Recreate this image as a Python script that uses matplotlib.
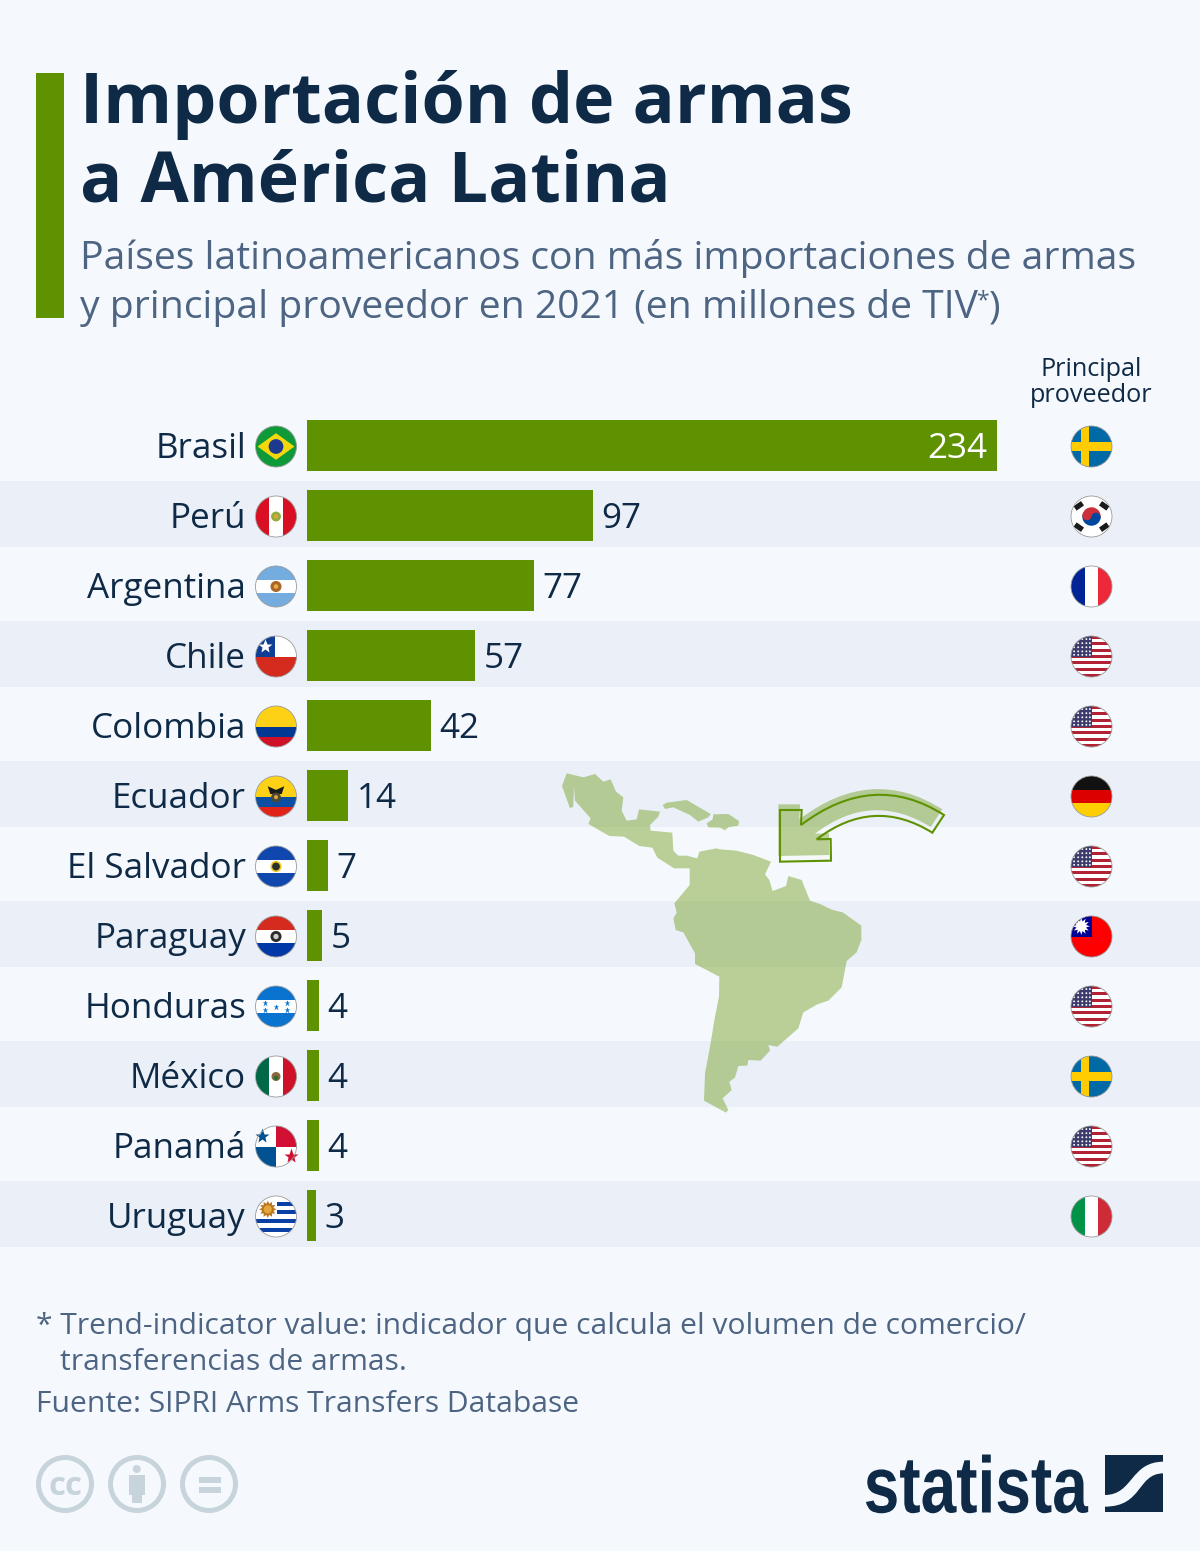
import numpy as np
import matplotlib
matplotlib.use('Agg')
import matplotlib.pyplot as plt
from matplotlib.patches import Circle, Rectangle, Polygon, PathPatch, Wedge
from matplotlib.patheffects import AbstractPathEffect
from matplotlib.path import Path
from matplotlib.transforms import Affine2D

plt.rcParams['font.family'] = ['Open Sans', 'DejaVu Sans']

# data
countries = ['Brasil', 'Perú', 'Argentina', 'Chile', 'Colombia', 'Ecuador', 'El Salvador',
             'Paraguay', 'Honduras', 'México', 'Panamá', 'Uruguay']
values = [234, 97, 77, 57, 42, 14, 7, 5, 4, 4, 4, 3]
suppliers = ['Suecia', 'Corea del Sur', 'Francia', 'EEUU', 'EEUU', 'Alemania', 'EEUU',
             'Taiwán', 'EEUU', 'Suecia', 'EEUU', 'Italia']
title_lines = ['Importación de armas', 'a América Latina']
subtitle_lines = ['Países latinoamericanos con más importaciones de armas',
                  'y principal proveedor en 2021 (en millones de TIV']
foot_lines = ['* Trend-indicator value: indicador que calcula el volumen de comercio/',
              'transferencias de armas.',
              'Fuente: SIPRI Arms Transfers Database']

BG = '#f5f9fd'
STRIPE = '#ebf0f8'
GREEN = '#5f9200'
NAVY = '#0f2a46'
GREY = '#4d6482'
PX = 0.72  # px to pt at dpi 100

fig = plt.figure(figsize=(12, 15.51), dpi=100, facecolor=BG)
ax = fig.add_axes([0, 0, 1, 1])
ax.set_xlim(0, 1200)
ax.set_ylim(1551, 0)
ax.axis('off')
renderer = fig.canvas.get_renderer()

# header
ax.add_patch(Rectangle((36, 73), 28, 245, color=GREEN, lw=0))
ax.text(79.5, 123.5, title_lines[0], fontsize=70 * PX, fontweight='bold', color=NAVY)
ax.text(79.5, 201.5, title_lines[1], fontsize=70 * PX, fontweight='bold', color=NAVY)
ax.text(79.5, 269.5, subtitle_lines[0], fontsize=39.15 * PX, color=GREY)
sub = ax.text(79.5, 318, subtitle_lines[1], fontsize=39.15 * PX, color=GREY)
# small asterisk and closing bracket follow the end of the line
end_x = sub.get_window_extent(renderer).x1
star = ax.text(end_x, 307, '*', fontsize=23 * PX, color=GREY)
end_x = star.get_window_extent(renderer).x1
ax.text(end_x - 1, 318, ')', fontsize=39.15 * PX, color=GREY)
ax.text(1091.5, 376, 'Principal', fontsize=25.2 * PX, color=NAVY, ha='center')
ax.text(1091.5, 402, 'proveedor', fontsize=25.2 * PX, color=NAVY, ha='center')

# stripes behind every second row
for i in range(1, 12, 2):
    ax.add_patch(Rectangle((0, 411 + 70 * i), 1200, 65.5, color=STRIPE, lw=0, zorder=0))

# map, points (zoom coordinates)
main_land = [(80, 40), (130, 52), (165, 42), (190, 65), (212, 58), (228, 95), (250, 112), (245, 152), (260, 182),
             (290, 178), (297, 148), (360, 155), (355, 170), (330, 195), (332, 212), (397, 218), (400, 272),
             (415, 287), (440, 287), (472, 295), (478, 275), (530, 265), (540, 268), (590, 272), (640, 285),
             (693, 305), (675, 343), (688, 360), (698, 393), (738, 378), (745, 348), (785, 360), (810, 422),
             (840, 432), (878, 450), (908, 457), (964, 497), (964, 540), (950, 577), (920, 603), (905, 682),
             (865, 722), (832, 733), (790, 757), (775, 805), (712, 860), (685, 855), (690, 872), (662, 902),
             (625, 900), (622, 917), (595, 918), (585, 953), (568, 965), (575, 990), (548, 1015), (565, 1050),
             (558, 1058), (492, 1022), (495, 940), (510, 860), (525, 770), (537, 710), (538, 650), (465, 612),
             (465, 580), (430, 517), (407, 510), (400, 475), (410, 458), (403, 430), (449, 375), (449, 325),
             (402, 325), (352, 293), (337, 263), (298, 258), (252, 230), (208, 228), (145, 192), (152, 175),
             (105, 122), (102, 80), (100, 140), (90, 145), (66, 78)]
cuba = [(368, 135), (380, 128), (440, 120), (512, 162), (505, 172), (475, 185), (450, 165), (400, 142), (375, 147)]
hispaniola = [(520, 163), (565, 162), (597, 183), (595, 197), (565, 202), (555, 211), (540, 203), (505, 202),
              (500, 190), (518, 178)]


def zoom_xy(pts, dx=0, dy=0):
    return [(540 + (x + dx) / 3, 760 + (y + dy) / 3) for x, y in pts]


for shape in (main_land, cuba, hispaniola):
    ax.add_patch(Polygon(zoom_xy(shape), closed=True, fc=GREEN, ec='none', alpha=0.4, zorder=1))

arrow_pts = [(720, 150), (785, 150), (783, 195), (1000, 30), (1212, 165), (1177, 218), (1000, 108), (830, 238),
             (872, 237), (873, 302), (720, 305), (720, 150)]
arrow_codes = [Path.MOVETO, Path.LINETO, Path.LINETO, Path.CURVE3, Path.CURVE3, Path.LINETO, Path.CURVE3,
               Path.CURVE3, Path.LINETO, Path.LINETO, Path.LINETO, Path.CLOSEPOLY]
ax.add_patch(PathPatch(Path(zoom_xy(arrow_pts, -5, -17), arrow_codes), fc=GREEN, ec='none', alpha=0.4, zorder=1))
ax.add_patch(PathPatch(Path(zoom_xy(arrow_pts), arrow_codes), fc='none', ec=GREEN, lw=1.5, zorder=1))

# bars, on their own axes with a real scale
bar_ax = fig.add_axes([307 / 1200, 1 - 1250.5 / 1551, 690 / 1200, 840 / 1551])
bar_ax.patch.set_alpha(0)
bar_ax.set_xlim(0, 234)
bar_ax.set_ylim(11.5, -0.5)
bar_ax.axis('off')
bar_ax.barh(range(len(values)), values, height=51 / 70, color=GREEN, zorder=3)
for i, (name, v) in enumerate(zip(countries, values)):
    bar_ax.annotate(name, (0, i), xytext=(-61 * PX, -13 * PX), textcoords='offset points', ha='right',
                    va='baseline', fontsize=35 * PX, color=NAVY, annotation_clip=False)
    if i == 0:
        bar_ax.annotate(str(v), (v, i), xytext=(-10 * PX, -13 * PX), textcoords='offset points', ha='right',
                        va='baseline', fontsize=35 * PX, color='white', zorder=4)
    else:
        bar_ax.annotate(str(v), (v, i), xytext=(8.5 * PX, -13 * PX), textcoords='offset points', ha='left',
                        va='baseline', fontsize=35 * PX, color=NAVY, annotation_clip=False)


# flags: drawn in units of the radius, clipped to a circle
R = 20.5


class Flag:
    def __init__(self, cx, cy):
        self.cx, self.cy = cx, cy
        self.clip = Circle((cx, cy), R, transform=ax.transData)

    def rect(self, x0, y0, x1, y1, color):
        p = Rectangle((self.cx + x0 * R, self.cy + y0 * R), (x1 - x0) * R, (y1 - y0) * R, fc=color, lw=0, zorder=5)
        ax.add_patch(p)
        p.set_clip_path(self.clip)

    def poly(self, pts, color):
        p = Polygon([(self.cx + x * R, self.cy + y * R) for x, y in pts], fc=color, lw=0, zorder=6)
        ax.add_patch(p)
        p.set_clip_path(self.clip)

    def dot(self, x, y, r, color):
        p = Circle((self.cx + x * R, self.cy + y * R), r * R, fc=color, lw=0, zorder=7)
        ax.add_patch(p)
        p.set_clip_path(self.clip)

    def star(self, x, y, size, color, marker='*'):
        ax.plot(self.cx + x * R, self.cy + y * R, marker=marker, ms=size, mfc=color, mec='none', zorder=8)

    def hbands(self, bands):
        for y0, y1, c in bands:
            self.rect(-1, y0, 1, y1, c)

    def vbands(self, bands):
        for x0, x1, c in bands:
            self.rect(x0, -1, x1, 1, c)

    def ring(self):
        ax.add_patch(Circle((self.cx, self.cy), R, fc='none', ec='#9a9a9a', lw=0.6, zorder=9))


def brasil(f):
    f.rect(-1, -1, 1, 1, '#0f9a3a')
    f.poly([(-0.9, 0), (0, -0.65), (0.9, 0), (0, 0.65)], '#f5d80c')
    f.dot(0, 0, 0.36, '#1d3a8f')
    f.poly([(-0.34, -0.1), (0.34, 0.08), (0.33, 0.14), (-0.34, -0.03)], '#e8eef5')


def peru(f):
    f.vbands([(-1, -0.33, '#d91023'), (-0.33, 0.33, 'white'), (0.33, 1, '#d91023')])
    f.dot(0, 0, 0.24, '#8fae3c')
    f.dot(0, 0, 0.11, '#d9a441')


def argentina(f):
    f.hbands([(-1, -0.33, '#74acdf'), (-0.33, 0.33, 'white'), (0.33, 1, '#74acdf')])
    f.dot(0, 0, 0.27, '#a9682a')
    f.dot(0, 0, 0.11, '#e8b04a')


def chile(f):
    f.rect(-1, -1, 1, 0, 'white')
    f.rect(-1, -1, -0.05, 0, '#0f3f95')
    f.rect(-1, 0, 1, 1, '#d52b1e')
    f.star(-0.53, -0.5, 10, 'white')


def colombia(f):
    f.hbands([(-1, 0, '#fcd116'), (0, 0.5, '#003893'), (0.5, 1, '#ce1126')])


def ecuador(f):
    f.hbands([(-1, 0, '#fcd116'), (0, 0.5, '#0b4ea2'), (0.5, 1, '#e2231a')])
    f.poly([(-0.4, -0.5), (0, -0.32), (0.4, -0.5), (0.28, -0.12), (-0.28, -0.12)], '#1b1b1b')
    f.dot(0, 0.05, 0.24, '#4a4a33')
    f.dot(0, 0.03, 0.1, '#d9a441')


def salvador(f):
    f.hbands([(-1, -0.33, '#0f47af'), (-0.33, 0.33, 'white'), (0.33, 1, '#0f47af')])
    f.dot(0, 0, 0.27, '#f0c419')
    f.dot(0, 0, 0.19, '#28322c')


def paraguay(f):
    f.hbands([(-1, -0.33, '#d52b1e'), (-0.33, 0.33, 'white'), (0.33, 1, '#0038a8')])
    f.dot(0, 0, 0.27, '#2b2b2b')
    f.dot(0, 0, 0.13, '#cfcfcf')


def honduras(f):
    f.hbands([(-1, -0.33, '#0a73cf'), (-0.33, 0.33, 'white'), (0.33, 1, '#0a73cf')])
    for x, y in [(-0.55, -0.17), (-0.55, 0.17), (0, 0), (0.55, -0.17), (0.55, 0.17)]:
        f.star(x, y, 5, '#0a73cf')


def mexico(f):
    f.vbands([(-1, -0.33, '#006847'), (-0.33, 0.33, 'white'), (0.33, 1, '#ce1126')])
    f.dot(0, 0, 0.22, '#8a6a3c')
    f.dot(0, 0.07, 0.11, '#2f6b3a')


def panama(f):
    f.rect(-1, -1, 0, 0, 'white')
    f.rect(0, -1, 1, 0, '#d21034')
    f.rect(-1, 0, 0, 1, '#005293')
    f.rect(0, 0, 1, 1, 'white')
    f.star(-0.68, -0.5, 11, '#005293')
    f.star(0.72, 0.48, 11, '#d21034')


def uruguay(f):
    f.rect(-1, -1, 1, 1, 'white')
    for y in (-0.73, -0.3, 0.14, 0.57):
        f.rect(-1, y, 1, y + 0.2, '#0a3fa6')
    f.rect(-1, -1, 0.05, 0.05, 'white')
    ang = np.linspace(0, 2 * np.pi, 24, endpoint=False)
    rad = np.where(np.arange(24) % 2 == 0, 0.42, 0.28)
    f.poly(list(zip(-0.4 + rad * np.cos(ang), -0.35 + rad * np.sin(ang))), '#b9761d')
    f.dot(-0.4, -0.35, 0.2, '#e3a63a')


def suecia(f):
    f.rect(-1, -1, 1, 1, '#006aa7')
    f.rect(-1, -0.2, 1, 0.22, '#fecc00')
    f.rect(-0.5, -1, -0.1, 1, '#fecc00')


def corea(f):
    f.rect(-1, -1, 1, 1, 'white')
    # y axis points down, so the wedge running through 270 degrees is the upper half
    ax.add_patch(Wedge((f.cx, f.cy), 0.45 * R, 190, 10, fc='#cd2e3a', lw=0, zorder=7))
    ax.add_patch(Wedge((f.cx, f.cy), 0.45 * R, 10, 190, fc='#0047a0', lw=0, zorder=7))
    f.dot(-0.22, -0.04, 0.225, '#cd2e3a')
    f.dot(0.22, 0.04, 0.225, '#0047a0')
    for x, y, a in [(-0.62, -0.52, -35), (0.62, -0.52, 35), (-0.62, 0.52, 35), (0.62, 0.52, -35)]:
        c, s = np.cos(np.radians(a)), np.sin(np.radians(a))
        box = [(-0.22, -0.13), (0.22, -0.13), (0.22, 0.13), (-0.22, 0.13)]
        f.poly([(x + bx * c - by * s, y + bx * s + by * c) for bx, by in box], '#1a1a1a')


def francia(f):
    f.vbands([(-1, -0.33, '#002395'), (-0.33, 0.33, 'white'), (0.33, 1, '#ed2939')])


def eeuu(f):
    f.rect(-1, -1, 1, 1, 'white')
    for k in range(0, 13, 2):
        f.rect(-1, -1 + k * 2 / 13, 1, -1 + (k + 1) * 2 / 13, '#b22234')
    f.rect(-1, -1, 0, 0, '#3c3b6e')
    for px_ in (-0.85, -0.65, -0.45, -0.25, -0.08):
        for py_ in (-0.85, -0.65, -0.45, -0.25, -0.08):
            f.dot(px_, py_, 0.045, 'white')


def alemania(f):
    f.hbands([(-1, -0.33, '#111111'), (-0.33, 0.33, '#dd0000'), (0.33, 1, '#ffce00')])


def taiwan(f):
    f.rect(-1, -1, 1, 1, '#fe0000')
    f.rect(-1, -1, 0, 0, '#000095')
    ang = np.linspace(0, 2 * np.pi, 24, endpoint=False)
    rad = np.where(np.arange(24) % 2 == 0, 0.42, 0.24)
    f.poly(list(zip(-0.5 + rad * np.cos(ang), -0.5 + rad * np.sin(ang))), 'white')


def italia(f):
    f.vbands([(-1, -0.33, '#009246'), (-0.33, 0.33, 'white'), (0.33, 1, '#ce2b37')])


country_flags = [brasil, peru, argentina, chile, colombia, ecuador, salvador, paraguay, honduras, mexico, panama, uruguay]
supplier_flags = {'Suecia': suecia, 'Corea del Sur': corea, 'Francia': francia, 'EEUU': eeuu, 'Alemania': alemania,
                  'Taiwán': taiwan, 'Italia': italia}
for i in range(len(countries)):
    cy = 446.5 + 70 * i
    left = Flag(276, cy)
    country_flags[i](left)
    left.ring()
    right = Flag(1091.5, cy)
    supplier_flags[suppliers[i]](right)
    right.ring()

# footer
ax.text(36.5, 1334, foot_lines[0], fontsize=30.05 * PX, color=GREY)
ax.text(59.5, 1370, foot_lines[1], fontsize=30.05 * PX, color=GREY)
ax.text(36.5, 1412, foot_lines[2], fontsize=30.05 * PX, color=GREY)

# cc icons
CC = '#c8d4dc'
for x in (65, 137, 209):
    ax.add_patch(Circle((x, 1484), 26.5, fc='none', ec=CC, lw=3.6))
ax.text(65, 1495, 'cc', fontsize=33 * PX, fontweight='bold', color=CC, ha='center')
ax.add_patch(Circle((136.7, 1469), 4, fc=CC, lw=0))
ax.add_patch(Rectangle((129, 1475), 16, 20, fc=CC, lw=0))
ax.add_patch(Rectangle((132, 1490), 10, 13, fc=CC, lw=0))
ax.add_patch(Rectangle((199, 1477), 22, 5.5, fc=CC, lw=0))
ax.add_patch(Rectangle((199, 1487), 22, 5.5, fc=CC, lw=0))


# no condensed font here, so the logo word is squeezed sideways about its right edge
class SqueezeX(AbstractPathEffect):
    def __init__(self, x0, sx):
        super().__init__()
        self.x0, self.sx = x0, sx

    def draw_path(self, renderer, gc, tpath, affine, rgbFace=None):
        squeeze = Affine2D().translate(-self.x0, 0).scale(self.sx, 1).translate(self.x0, 0)
        renderer.draw_path(gc, tpath, affine + squeeze, rgbFace)


ax.text(1088, 1512.5, 'statista', fontsize=80 * PX, fontweight='bold', color=NAVY, ha='right',
        family='Liberation Sans', path_effects=[SqueezeX(1088, 0.8)])
ax.add_patch(Rectangle((1105, 1455), 58, 57, fc=NAVY, lw=0))


def logo_xy(pts):
    return [(850 + x / 3, 1445 + y / 3) for x, y in pts]


swoosh = Path(logo_xy([(941, 50), (840, 50), (850, 150), (764, 150), (764, 185), (880, 185), (860, 85), (941, 85),
                       (941, 50)]),
              [Path.MOVETO, Path.CURVE4, Path.CURVE4, Path.CURVE4, Path.LINETO, Path.CURVE4, Path.CURVE4, Path.CURVE4,
               Path.CLOSEPOLY])
ax.add_patch(PathPatch(swoosh, fc=BG, ec='none', zorder=2))

fig.savefig('out.png', dpi=100, facecolor=BG)
